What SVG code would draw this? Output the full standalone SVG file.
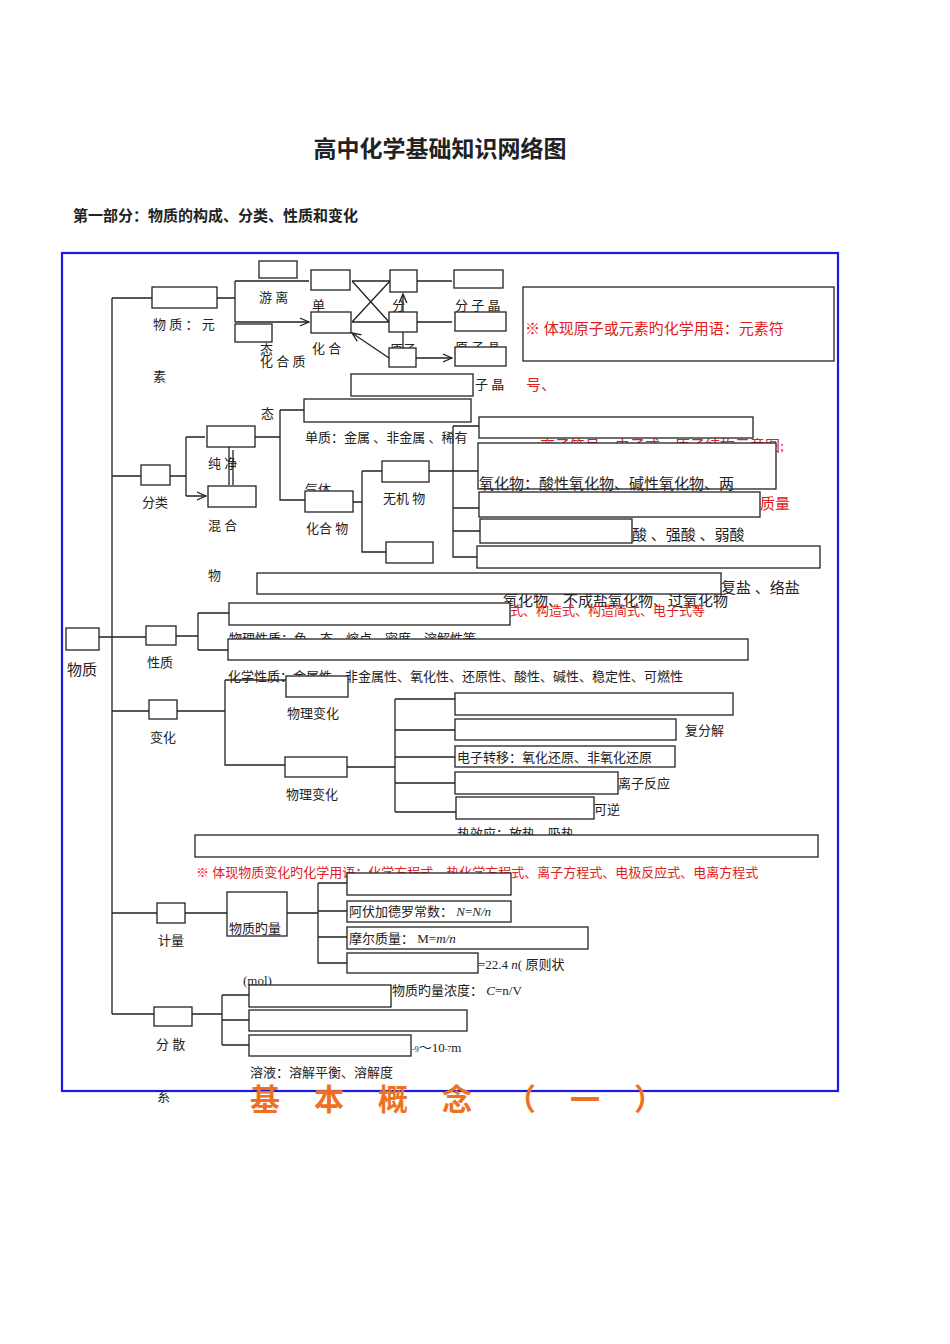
<svg xmlns="http://www.w3.org/2000/svg" width="950" height="1344" viewBox="0 0 950 1344">
<style>
text{font-family:"Liberation Serif","Noto Sans CJK SC",serif;font-size:13px;fill:#222}
.r{fill:#e02020}
.b{fill:#fff;stroke:#222;stroke-width:1.3}
.n{fill:none;stroke:#222;stroke-width:1.3}
.l{fill:none;stroke:#222;stroke-width:1.3}
.big{font-size:15px}
</style>
<defs><marker id="a" markerWidth="8" markerHeight="8" refX="7" refY="4" orient="auto"><path d="M0,1 L7,4 L0,7" fill="none" stroke="#222"/></marker></defs>
<rect width="950" height="1344" fill="#fff"/>
<text x="440" y="157" text-anchor="middle" style="font-size:23px;font-weight:bold;font-family:'Noto Sans CJK SC',sans-serif">高中化学基础知识网络图</text>
<text x="73" y="221" style="font-size:15px;font-weight:bold;font-family:'Noto Sans CJK SC',sans-serif">第一部分：物质的构成、分类、性质和变化</text>
<rect x="62" y="253" width="776" height="838" fill="none" stroke="#1a1ae0" stroke-width="2.2"/>
<text x="250" y="1110" style="font-size:30px;font-weight:bold;fill:#f07020;letter-spacing:34px;font-family:'Noto Sans CJK SC',sans-serif">基本概念（一）</text>

<g id="texts">
<text x="259" y="302">游  离</text>
<text x="153" y="329">物 质 ： 元</text>
<text x="153" y="381">素</text>
<text x="260" y="354">态</text><text x="260" y="366">化   合   质</text>
<text x="312" y="310">单</text><text x="312" y="353">化   合</text>
<text x="392" y="310">分</text><text x="390" y="354">原子</text>
<text x="455" y="310">分 子 晶</text><text x="455" y="352">原 子 晶</text>
<text x="475" y="389">子 晶</text>
<text x="261" y="418">态</text>
<text x="305" y="442">单质：金属 、非金属 、稀有</text>
<text x="208" y="468">纯    净</text>
<text x="142" y="507">分类</text>
<text x="208" y="530">混     合</text>
<text x="208" y="580">物</text>
<text x="305" y="494">气体</text>
<text x="383" y="503">无机 物</text>
<text x="306" y="533">化合 物</text>
<text x="526" y="390" class="r big">号、</text>
<text class="r big" x="525" y="334">※ 体现原子或元素旳化学用语：元素符</text>
<text class="r big" x="540" y="451">离子符号、电子式、原子结构示意图;</text>
<text class="r big" x="760" y="509">质量</text>
<text class="big" x="632" y="540">酸 、强酸 、弱酸</text>
<text class="big" x="721" y="593">复盐 、络盐</text>
<text class="big" x="503" y="606">氧化物、不成盐氧化物、过氧化物</text>
<text class="r" x="510" y="615">式、构造式、构造简式、电子式等</text>
<text x="229" y="643">物理性质：色、态、熔点、密度、溶解性等</text>
<text x="67" y="675" class="big">物质</text>
<text x="147" y="667">性质</text>
<text x="228" y="681">化学性质：金属性、非金属性、氧化性、还原性、酸性、碱性、稳定性、可燃性</text>
<text x="287" y="718">物理变化</text>
<text x="150" y="742">变化</text>
<text x="685" y="735">复分解</text>
<text x="286" y="799">物理变化</text>
<text x="618" y="788">离子反应</text>
<text x="594" y="814">可逆</text>
<text x="457" y="838">热效应：放热、吸热</text>
<text class="r" x="196" y="877">※ 体现物质变化旳化学用语：化学方程式、热化学方程式、离子方程式、电极反应式、电离方程式</text>
<text x="158" y="945">计量</text>
<text x="478" y="969">=22.4  <tspan font-style="italic">n</tspan>( 原则状</text>
<text x="243" y="985">(mol)</text>
<text x="392" y="995">物质旳量浓度： <tspan font-style="italic">C</tspan>=n/V</text>
<text x="156" y="1049">分  散</text>
<text x="412" y="1052"><tspan font-size="8">-9</tspan>～10<tspan font-size="8">-7</tspan>m</text>
<text x="250" y="1077">溶液：溶解平衡、溶解度</text>
<text x="157" y="1101" font-size="11">系</text>
</g>

<g id="connectors">
<path class="l" d="M112 298V1014M112 298H152M112 476H141M99 637H146M112 711H149M112 913H157M112 1014H154"/>
<path class="l" d="M217 298H235M235 281V322"/>
<path class="l" d="M235 281H309M235 322H309" marker-end="url(#a)"/>
<path class="l" d="M390 281H352M390 281L352 322M389 322L352 281M389 322H352M389 358L352 333" marker-end="url(#a)"/>
<path class="l" d="M417 281H452M417 322H452M416 358H452" marker-end="url(#a)"/>
<path class="l" d="M403 312V294" marker-end="url(#a)"/><path class="l" d="M403 332V348"/>
<path class="l" d="M170 476H186M186 437V496M186 437H205M186 496H206" marker-end="url(#a)"/>
<path class="l" d="M229 447V485M233 485V450"/>
<path class="l" d="M255 437H280M280 410V500H305M280 410H304"/>
<path class="l" d="M353 502H362M362 471V552H386M362 471H382M429 471H478"/>
<path class="l" d="M453 426V557H477M453 426H479M453 508H479M453 531H480"/>
<path class="l" d="M176 636H198M198 613V650M198 613H229M198 650H228"/>
<path class="l" d="M177 711H225M225 680V765H285M225 680H286"/>
<path class="l" d="M347 767H395M395 699V812M395 699H455M395 730H455M395 757H455M395 783H455M395 812H456"/>
<path class="l" d="M185 913H227M287 913H318M318 883V963H347M318 883H347M318 911H347M318 937H347"/>
<path class="l" d="M192 1014H222M222 995V1045M222 995H249M222 1020H249M222 1045H249"/>
</g>

<g id="nodes">
<rect class="b" x="259" y="261" width="38" height="17"/>
<rect class="b" x="152" y="287" width="65" height="21"/>
<rect class="b" x="235" y="324" width="37" height="18"/>
<rect class="b" x="311" y="270" width="39" height="20"/>
<rect class="b" x="311" y="312" width="40" height="21"/>
<rect class="b" x="390" y="270" width="27" height="22"/>
<rect class="b" x="389" y="312" width="28" height="20"/>
<rect class="b" x="389" y="348" width="27" height="19"/>
<rect class="b" x="454" y="270" width="49" height="18"/>
<rect class="b" x="455" y="312" width="51" height="19"/>
<rect class="b" x="455" y="347" width="51" height="19"/>
<rect class="b" x="351" y="374" width="122" height="22"/>
<rect class="b" x="304" y="399" width="167" height="23"/>
<rect class="n" x="523" y="287" width="311" height="74"/>
<rect class="b" x="479" y="417" width="274" height="21"/>
<rect class="b" x="478" y="443" width="298" height="46"/>
<text class="big" x="479" y="489">氧化物：酸性氧化物、碱性氧化物、两</text>
<rect class="b" x="479" y="492" width="281" height="25"/>
<rect class="b" x="480" y="519" width="152" height="24"/>
<rect class="b" x="477" y="546" width="343" height="22"/>
<rect class="b" x="257" y="573" width="464" height="21"/>
<rect class="b" x="229" y="603" width="281" height="22"/>
<rect class="b" x="228" y="639" width="520" height="21"/>
<rect class="b" x="66" y="628" width="33" height="22"/>
<rect class="b" x="146" y="626" width="30" height="19"/>
<rect class="b" x="141" y="465" width="29" height="20"/>
<rect class="b" x="207" y="426" width="48" height="21"/>
<rect class="b" x="208" y="486" width="48" height="21"/>
<rect class="b" x="305" y="491" width="48" height="21"/>
<rect class="b" x="382" y="461" width="47" height="21"/>
<rect class="b" x="386" y="542" width="47" height="21"/>
<rect class="b" x="149" y="700" width="28" height="19"/>
<rect class="b" x="286" y="676" width="62" height="21"/>
<rect class="b" x="285" y="757" width="62" height="20"/>
<rect class="b" x="455" y="693" width="278" height="22"/>
<rect class="b" x="455" y="719" width="221" height="21"/>
<rect class="b" x="455" y="746" width="220" height="21"/>
<text x="457" y="762">电子转移：氧化还原、非氧化还原</text>
<rect class="b" x="455" y="772" width="163" height="22"/>
<rect class="b" x="456" y="797" width="138" height="22"/>
<rect class="b" x="195" y="835" width="623" height="22"/>
<rect class="b" x="347" y="873" width="164" height="22"/>
<rect class="b" x="347" y="901" width="164" height="21"/>
<text x="349" y="916">阿伏加德罗常数： <tspan font-style="italic">N</tspan>=<tspan font-style="italic">N/n</tspan></text>
<rect class="b" x="347" y="927" width="241" height="22"/>
<text x="349" y="943">摩尔质量： M=<tspan font-style="italic">m/n</tspan></text>
<rect class="b" x="347" y="953" width="131" height="20"/>
<rect class="b" x="157" y="903" width="28" height="20"/>
<rect class="b" x="227" y="892" width="60" height="44"/>
<text x="229" y="933">物质旳量</text>
<rect class="b" x="154" y="1007" width="38" height="19"/>
<rect class="b" x="249" y="985" width="142" height="22"/>
<rect class="b" x="249" y="1010" width="218" height="21"/>
<rect class="b" x="249" y="1035" width="162" height="21"/>
</g>
</svg>
